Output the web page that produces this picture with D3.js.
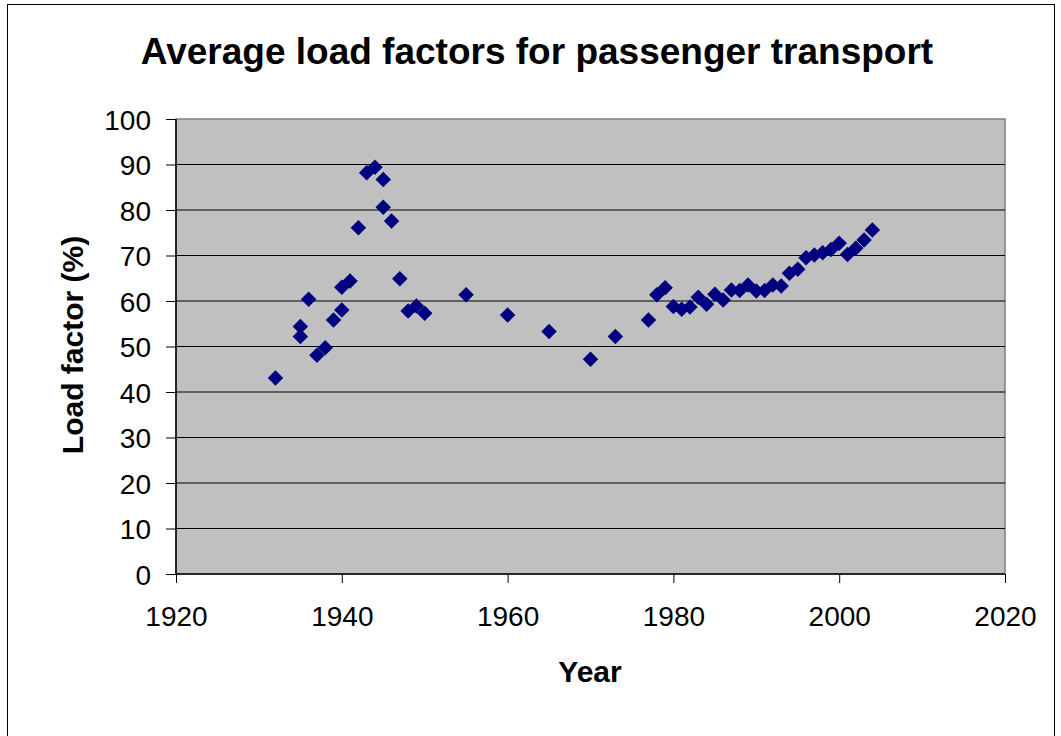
<!DOCTYPE html>
<html>
<head>
<meta charset="utf-8">
<script src="https://cdn.jsdelivr.net/npm/d3@7"></script>
<style>
  html, body { margin: 0; padding: 0; background: #fff; }
  svg { display: block; font-family: "Liberation Sans", Arial, sans-serif; }
</style>
</head>
<body>
<svg id="chart" width="1061" height="736"></svg>
<script>
const title = "Average load factors for passenger transport";
const xLabel = "Year";
const yLabel = "Load factor (%)";
const xTicks = [1920, 1940, 1960, 1980, 2000, 2020];
const yTicks = [0, 10, 20, 30, 40, 50, 60, 70, 80, 90, 100];
const years = [1932, 1935, 1935, 1936, 1937, 1938, 1939, 1940, 1940, 1941, 1942, 1943, 1944, 1945, 1945, 1946, 1947, 1948, 1949, 1950,
  1955, 1960, 1965, 1970, 1973, 1977, 1978, 1979, 1980, 1981, 1982, 1983, 1984, 1985, 1986, 1987, 1988, 1989, 1990, 1991, 1992, 1993,
  1994, 1995, 1996, 1997, 1998, 1999, 2000, 2001, 2002, 2003, 2004];
const loadFactors = [43.1, 54.4, 52.2, 60.4, 48.1, 49.7, 55.8, 58.0, 63.0, 64.4, 76.1, 88.2, 89.4, 86.7, 80.6, 77.6, 64.9, 57.8, 58.9, 57.3,
  61.4, 56.9, 53.3, 47.2, 52.2, 55.8, 61.4, 62.9, 58.8, 58.2, 58.7, 60.8, 59.3, 61.5, 60.2, 62.4, 62.3, 63.5, 62.2, 62.3, 63.5, 63.3,
  66.1, 67.0, 69.5, 70.1, 70.6, 71.3, 72.7, 70.2, 71.6, 73.4, 75.6];

const svg = d3.select("#chart");
const plot = { left: 176, right: 1005, top: 119, bottom: 574 };

const x = d3.scaleLinear().domain([1920, 2020]).range([plot.left, plot.right]);
const y = d3.scaleLinear().domain([0, 100]).range([plot.bottom, plot.top]);

// outer border
svg.append("rect").attr("x", 7.5).attr("y", 4.5).attr("width", 1047).attr("height", 740)
  .attr("fill", "none").attr("stroke", "#000").attr("stroke-width", 1);

// plot background
svg.append("rect").attr("x", plot.left).attr("y", plot.top)
  .attr("width", plot.right - plot.left).attr("height", plot.bottom - plot.top)
  .attr("fill", "#c0c0c0").attr("stroke", "#808080").attr("stroke-width", 1.5);

// gridlines
svg.append("g").selectAll("line").data(yTicks.filter(d => d > 0 && d < 100)).join("line")
  .attr("x1", plot.left).attr("x2", plot.right)
  .attr("y1", d => y(d)).attr("y2", d => y(d))
  .attr("stroke", "#000").attr("stroke-width", 1.2);

// axes
const yAxis = d3.axisLeft(y).tickValues(yTicks).tickSize(10).tickPadding(15).tickFormat(d3.format("d"));
const gy = svg.append("g").attr("transform", `translate(${plot.left},0)`).call(yAxis);
const xAxis = d3.axisBottom(x).tickValues(xTicks).tickSize(9).tickPadding(23).tickFormat(d3.format("d"));
const gx = svg.append("g").attr("transform", `translate(0,${plot.bottom})`).call(xAxis);
[gx, gy].forEach(g => {
  g.select(".domain").attr("stroke", "#000").attr("stroke-width", 1.5);
  g.selectAll(".tick line").attr("stroke", "#000");
  g.selectAll("text").attr("fill", "#000").style("font-size", "28px")
    .style("font-family", '"Liberation Sans", Arial, sans-serif');
});
gy.select(".domain").attr("d", `M0,${plot.top}V${plot.bottom}`);
gx.select(".domain").attr("d", `M${plot.left},0H${plot.right}`);
gy.selectAll("text").attr("dy", "0.36em");

// points
const pts = years.map((yr, i) => ({ yr, v: loadFactors[i] }));
const diamond = d3.symbol().type(d3.symbolSquare).size(120);
svg.append("g").selectAll("path").data(pts).join("path")
  .attr("d", diamond)
  .attr("transform", d => `translate(${x(d.yr)},${y(d.v)}) rotate(45)`)
  .attr("fill", "#000080");

// title
svg.append("text").attr("x", 537).attr("y", 64).attr("text-anchor", "middle")
  .style("font-size", "37px").style("font-weight", "bold").attr("fill", "#000").text(title);

// axis titles
svg.append("text").attr("x", 590).attr("y", 682).attr("text-anchor", "middle")
  .style("font-size", "30px").style("font-weight", "bold").attr("fill", "#000").text(xLabel);
svg.append("text").attr("transform", "translate(83,345) rotate(-90)").attr("text-anchor", "middle")
  .style("font-size", "30px").style("font-weight", "bold").attr("fill", "#000").text(yLabel);
</script>
</body>
</html>
